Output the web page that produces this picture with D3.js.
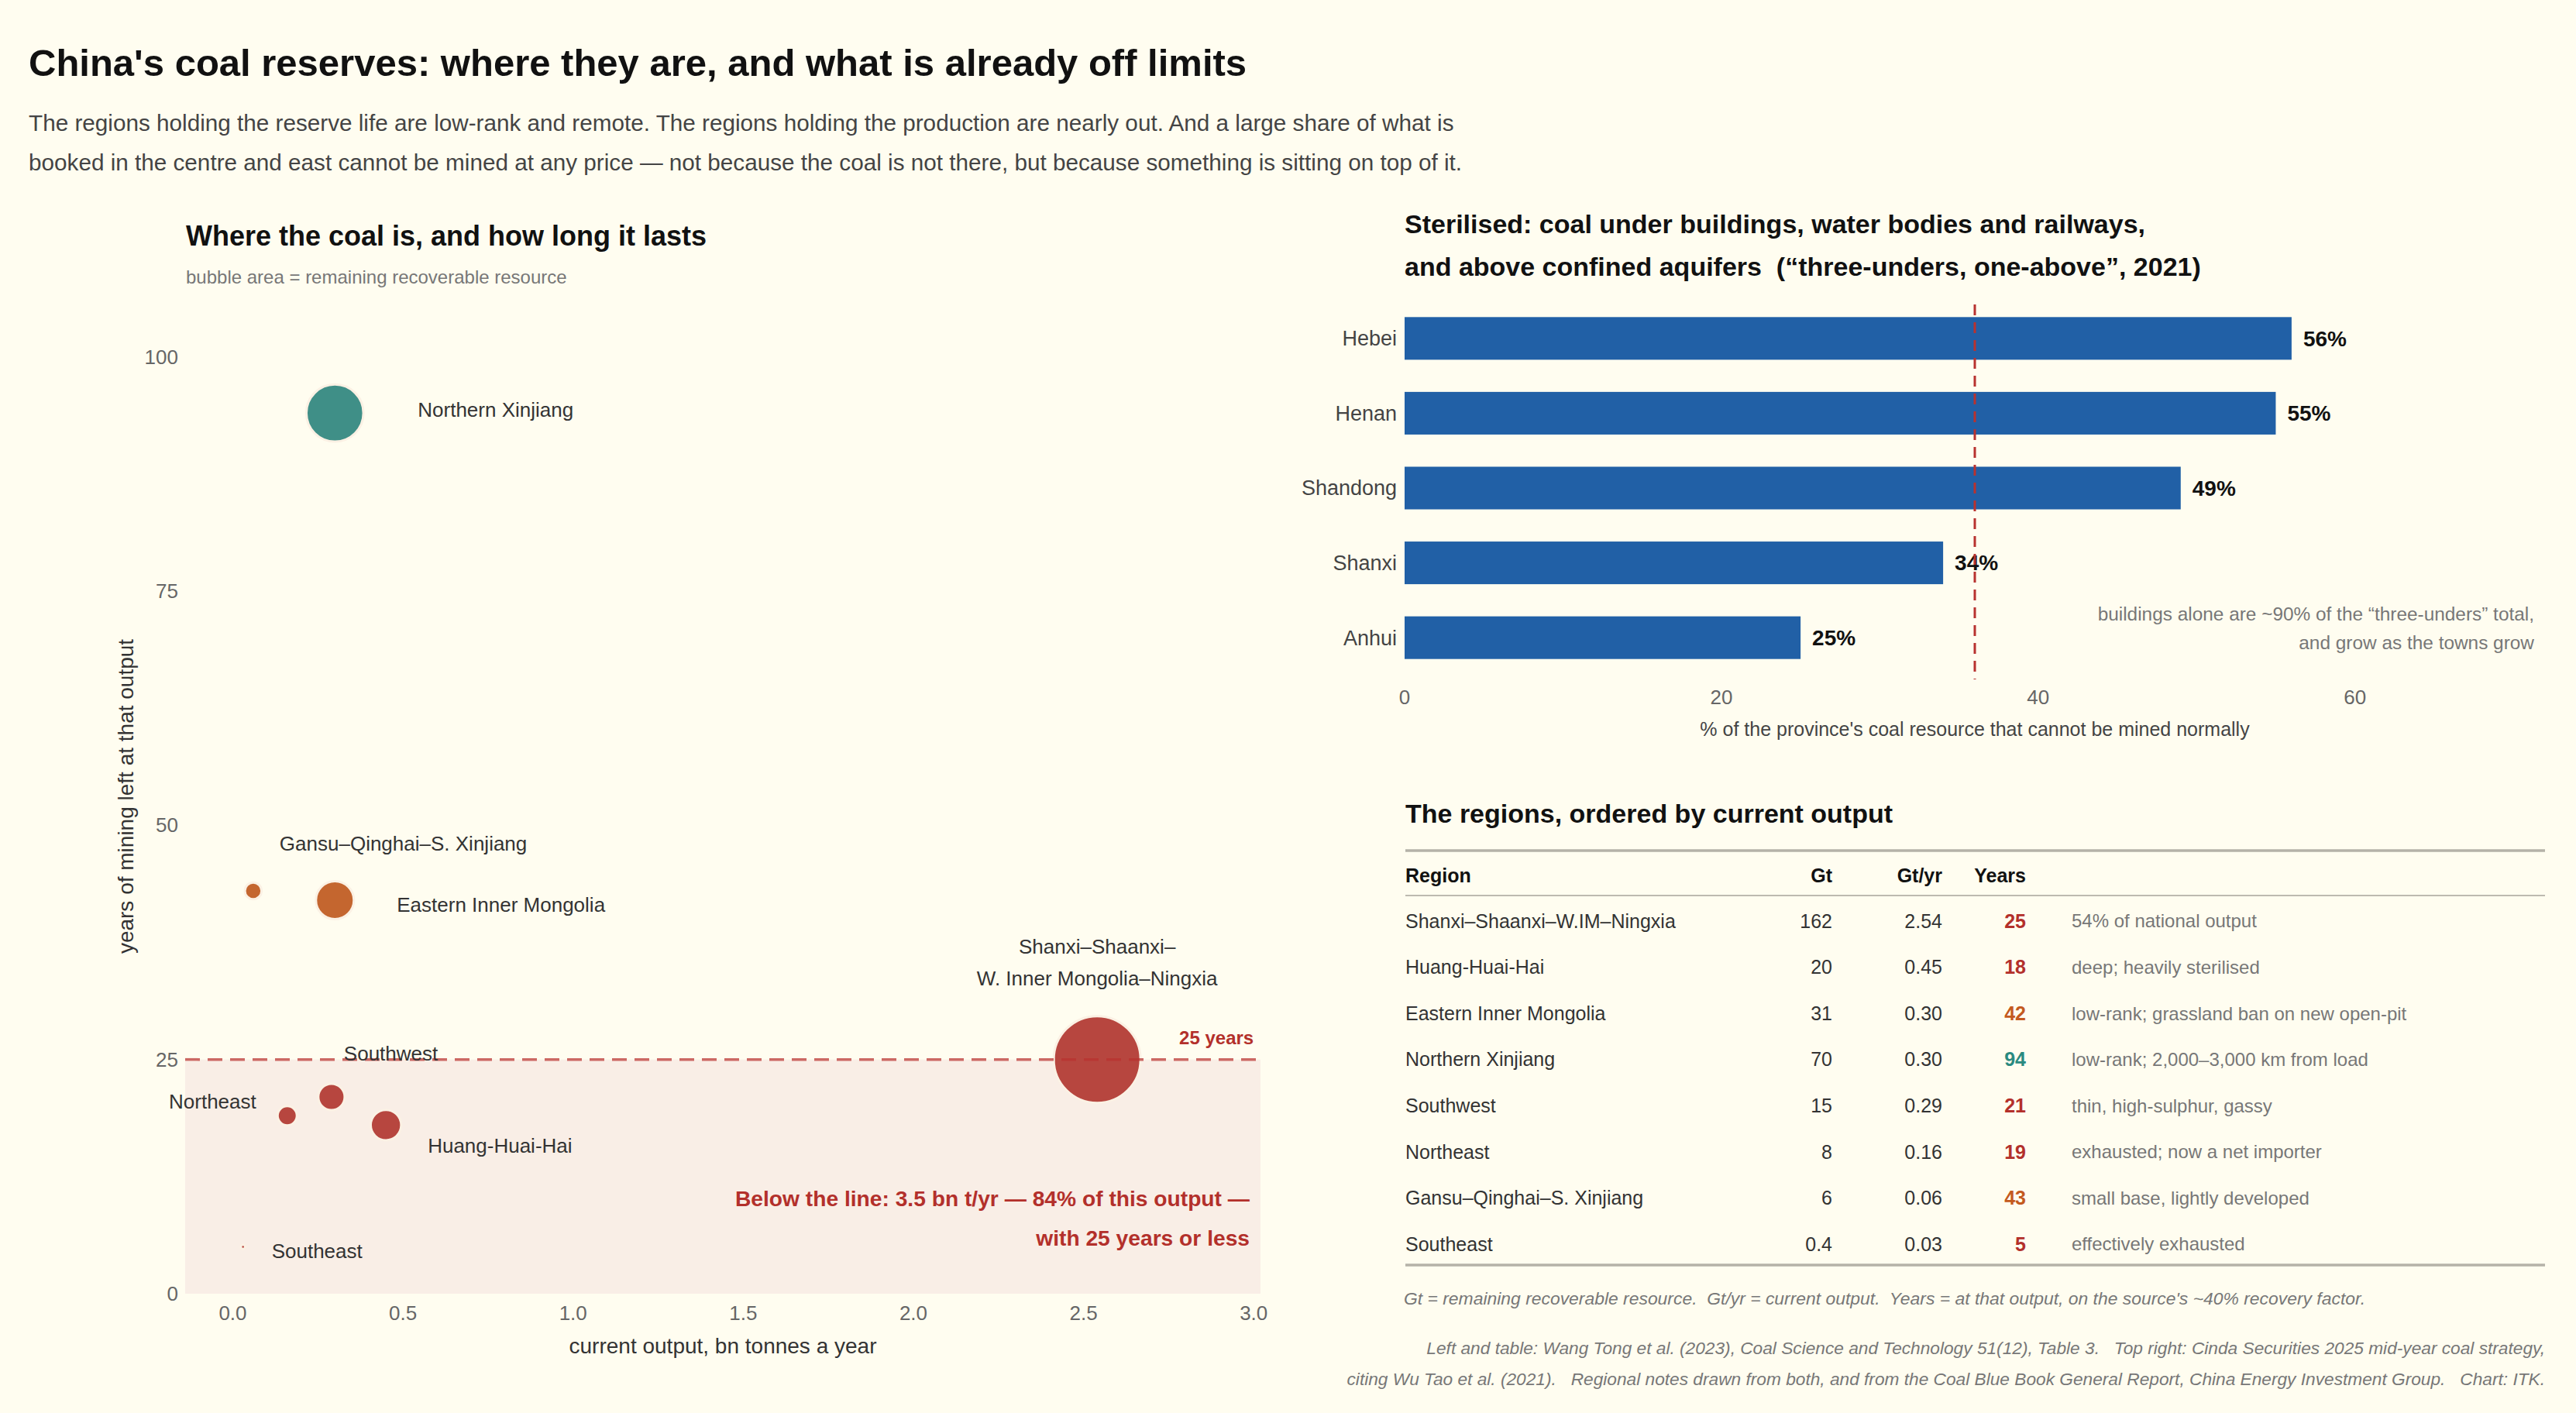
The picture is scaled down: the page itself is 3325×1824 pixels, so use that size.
<!DOCTYPE html>
<html>
<head>
<meta charset="utf-8">
<script src="https://cdn.jsdelivr.net/npm/d3@7"></script>
<style>
  body { margin: 0; background: #fffdf0; }
  svg { display: block; font-family: "Liberation Sans", Arial, Helvetica, sans-serif; }
  text { white-space: pre; }
</style>
</head>
<body>
<div id="chart"></div>
<script>
//Page size
var W = 3325, H = 1824;

//Regional data (Wang Tong et al. 2023, Table 3), ordered by current output
var regions = ['Shanxi–Shaanxi–W.IM–Ningxia', 'Huang-Huai-Hai', 'Eastern Inner Mongolia',
  'Northern Xinjiang', 'Southwest', 'Northeast', 'Gansu–Qinghai–S. Xinjiang', 'Southeast'];
var bubbleNames = [['Shanxi–Shaanxi–', 'W. Inner Mongolia–Ningxia'], ['Huang-Huai-Hai'],
  ['Eastern Inner Mongolia'], ['Northern Xinjiang'], ['Southwest'], ['Northeast'],
  ['Gansu–Qinghai–S. Xinjiang'], ['Southeast']];
var resourceGt = [162, 20, 31, 70, 15, 8, 6, 0.4];
var outputGt = [2.54, 0.45, 0.30, 0.30, 0.29, 0.16, 0.06, 0.03];
var yearsLeft = [25, 18, 42, 94, 21, 19, 43, 5];
var notes = ['54% of national output', 'deep; heavily sterilised', 'low-rank; grassland ban on new open-pit',
  'low-rank; 2,000–3,000 km from load', 'thin, high-sulphur, gassy', 'exhausted; now a net importer',
  'small base, lightly developed', 'effectively exhausted'];

//Sterilised share by province (three-unders, one-above, 2021)
var provinces = ['Hebei', 'Henan', 'Shandong', 'Shanxi', 'Anhui'];
var sterilisedPct = [56, 55, 49, 34, 25];
var referencePct = 36;

//Tick labels
var xTicks = [0, 0.5, 1.0, 1.5, 2.0, 2.5, 3.0];
var yTicks = [0, 25, 50, 75, 100];
var barTicks = [0, 20, 40, 60];
var thresholdYears = 25;

//Colours
var bg = '#fffdf0';
var red = '#b7463f', orange = '#c4662f', teal = '#3f8f87';
var textRed = '#b3302b', textOrange = '#c45a1e', textTeal = '#2a8a80';
function tier(y) { return y <= 25 ? 0 : (y < 60 ? 1 : 2); }
var bubbleFill = [red, orange, teal];
var yearsFill = [textRed, textOrange, textTeal];

//Label offsets from each bubble centre (dx, dy, anchor)
var labelPos = {
  'Shanxi–Shaanxi–W.IM–Ningxia': [0, -146, 'middle'],
  'Huang-Huai-Hai': [54, 27, 'start'],
  'Eastern Inner Mongolia': [80, 6, 'start'],
  'Northern Xinjiang': [107, -4, 'start'],
  'Southwest': [16, -56, 'start'],
  'Northeast': [-40, -18, 'end'],
  'Gansu–Qinghai–S. Xinjiang': [34, -61, 'start'],
  'Southeast': [37, 5, 'start']
};

var svg = d3.select('#chart').append('svg')
  .attr('width', W).attr('height', H);
svg.append('rect').attr('width', W).attr('height', H).attr('fill', bg);

//Page title and deck
svg.append('text').attr('x', 37).attr('y', 98)
  .attr('font-size', 49).attr('font-weight', 'bold').attr('fill', '#111')
  .text("China's coal reserves: where they are, and what is already off limits");
var deck = ['The regions holding the reserve life are low-rank and remote. The regions holding the production are nearly out. And a large share of what is',
  'booked in the centre and east cannot be mined at any price — not because the coal is not there, but because something is sitting on top of it.'];
deck.forEach(function(line, i) {
  svg.append('text').attr('x', 37).attr('y', 169 + i * 51)
    .attr('font-size', 29.7).attr('fill', '#444').text(line);
});

//----- Left: bubble chart -----
var left = svg.append('g');
left.append('text').attr('x', 240).attr('y', 317)
  .attr('font-size', 36).attr('font-weight', 'bold').attr('fill', '#111')
  .text('Where the coal is, and how long it lasts');
left.append('text').attr('x', 240).attr('y', 366)
  .attr('font-size', 24).attr('fill', '#777')
  .text('bubble area = remaining recoverable resource');

var x = d3.scaleLinear().domain([-0.14, 3.02]).range([239, 1627]);
var y = d3.scaleLinear().domain([0, 106.5]).range([1670, 382]);
var r = d3.scaleSqrt().domain([0, 162]).range([0, 56]);

//Shaded zone under the threshold
left.append('rect')
  .attr('x', x(-0.14)).attr('y', y(thresholdYears))
  .attr('width', x(3.02) - x(-0.14)).attr('height', y(0) - y(thresholdYears))
  .attr('fill', '#f9eee6');

//Bubbles, largest first so small ones sit on top
var pts = regions.map(function(d, i) {
  return { name: d, label: bubbleNames[i], gt: resourceGt[i], out: outputGt[i], yrs: yearsLeft[i] };
});
left.selectAll('circle.bubble')
  .data(pts.slice().sort(function(a, b) { return b.gt - a.gt; }))
  .enter().append('circle')
  .attr('class', 'bubble')
  .attr('cx', function(d) { return x(d.out); })
  .attr('cy', function(d) { return y(d.yrs); })
  .attr('r', function(d) { return r(d.gt); })
  .attr('fill', function(d) { return bubbleFill[tier(d.yrs)]; })
  .attr('stroke', '#fbf1e4').attr('stroke-width', 3);

//Threshold line
left.append('line')
  .attr('x1', x(-0.14)).attr('x2', x(3.02))
  .attr('y1', y(thresholdYears)).attr('y2', y(thresholdYears))
  .attr('stroke', '#b8322f').attr('stroke-opacity', 0.72)
  .attr('stroke-width', 3.5).attr('stroke-dasharray', '19,10');

//Bubble labels
pts.forEach(function(d) {
  var p = labelPos[d.name];
  d.label.forEach(function(line, j) {
    left.append('text')
      .attr('x', x(d.out) + p[0]).attr('y', y(d.yrs) + p[1] + j * 41)
      .attr('dy', '0.35em').attr('text-anchor', p[2])
      .attr('font-size', 26).attr('fill', '#333').text(line);
  });
});

//Threshold annotations
left.append('text').attr('x', x(3.0)).attr('y', 1348)
  .attr('text-anchor', 'end').attr('font-size', 24).attr('font-weight', 'bold')
  .attr('fill', textRed).text(thresholdYears + ' years');
['Below the line: 3.5 bn t/yr — 84% of this output —', 'with 25 years or less'].forEach(function(line, i) {
  left.append('text').attr('x', 1613).attr('y', 1557 + i * 51)
    .attr('text-anchor', 'end').attr('font-size', 28.2).attr('font-weight', 'bold')
    .attr('fill', textRed).text(line);
});

//Axes
left.selectAll('text.xt').data(xTicks).enter().append('text')
  .attr('class', 'xt').attr('x', function(d) { return x(d); }).attr('y', 1704)
  .attr('text-anchor', 'middle').attr('font-size', 26).attr('fill', '#666')
  .text(function(d) { return d.toFixed(1); });
left.selectAll('text.yt').data(yTicks).enter().append('text')
  .attr('class', 'yt').attr('x', 230).attr('y', function(d) { return y(d); })
  .attr('dy', '0.35em').attr('text-anchor', 'end').attr('font-size', 26).attr('fill', '#666')
  .text(function(d) { return d; });
left.append('text').attr('x', (x(-0.14) + x(3.02)) / 2).attr('y', 1747)
  .attr('text-anchor', 'middle').attr('font-size', 28).attr('fill', '#333')
  .text('current output, bn tonnes a year');
left.append('text')
  .attr('transform', 'translate(162,1028) rotate(-90)')
  .attr('dy', '0.35em').attr('text-anchor', 'middle').attr('font-size', 28).attr('fill', '#333')
  .text('years of mining left at that output');

//----- Top right: sterilised bars -----
var right = svg.append('g');
['Sterilised: coal under buildings, water bodies and railways,',
 'and above confined aquifers  (“three-unders, one-above”, 2021)'].forEach(function(line, i) {
  right.append('text').attr('x', 1813).attr('y', 301 + i * 55)
    .attr('font-size', 34).attr('font-weight', 'bold').attr('fill', '#111').text(line);
});

var bx = d3.scaleLinear().domain([0, 72]).range([1813, 3285]);
var by = d3.scaleBand().domain(provinces).range([390, 870])
  .paddingInner(0.43).paddingOuter(0.2);

var bars = provinces.map(function(p, i) { return { prov: p, pct: sterilisedPct[i] }; });
right.selectAll('rect.bar').data(bars).enter().append('rect')
  .attr('class', 'bar')
  .attr('x', bx(0)).attr('y', function(d) { return by(d.prov); })
  .attr('width', function(d) { return bx(d.pct) - bx(0); })
  .attr('height', by.bandwidth())
  .attr('fill', '#2160a6');
right.selectAll('text.val').data(bars).enter().append('text')
  .attr('class', 'val')
  .attr('x', function(d) { return bx(d.pct) + 15; })
  .attr('y', function(d) { return by(d.prov) + by.bandwidth() / 2; })
  .attr('dy', '0.35em').attr('font-size', 28).attr('font-weight', 'bold').attr('fill', '#111')
  .text(function(d) { return d.pct + '%'; });
right.selectAll('text.cat').data(bars).enter().append('text')
  .attr('class', 'cat').attr('x', 1803)
  .attr('y', function(d) { return by(d.prov) + by.bandwidth() / 2; })
  .attr('dy', '0.35em').attr('text-anchor', 'end').attr('font-size', 27).attr('fill', '#444')
  .text(function(d) { return d.prov; });

right.append('line')
  .attr('x1', bx(referencePct)).attr('x2', bx(referencePct))
  .attr('y1', 393).attr('y2', 877)
  .attr('stroke', '#b8322f').attr('stroke-width', 3).attr('stroke-dasharray', '14,9');

['buildings alone are ~90% of the “three-unders” total,', 'and grow as the towns grow'].forEach(function(line, i) {
  right.append('text').attr('x', 3271).attr('y', 801 + i * 37)
    .attr('text-anchor', 'end').attr('font-size', 24.4).attr('fill', '#777').text(line);
});

right.selectAll('text.bt').data(barTicks).enter().append('text')
  .attr('class', 'bt').attr('x', function(d) { return bx(d); }).attr('y', 909)
  .attr('text-anchor', 'middle').attr('font-size', 26).attr('fill', '#666')
  .text(function(d) { return d; });
right.append('text').attr('x', bx(36)).attr('y', 950)
  .attr('text-anchor', 'middle').attr('font-size', 25).attr('fill', '#444')
  .text("% of the province's coal resource that cannot be mined normally");

//----- Bottom right: table -----
var tbl = svg.append('g');
tbl.append('text').attr('x', 1814).attr('y', 1062)
  .attr('font-size', 34).attr('font-weight', 'bold').attr('fill', '#111')
  .text('The regions, ordered by current output');

var colRegion = 1814, colGt = 2365, colOut = 2507, colYrs = 2615, colNote = 2674, tblRight = 3285;
tbl.append('line').attr('x1', colRegion).attr('x2', tblRight).attr('y1', 1098).attr('y2', 1098)
  .attr('stroke', '#b5b2a8').attr('stroke-width', 3.5);
tbl.append('line').attr('x1', colRegion).attr('x2', tblRight).attr('y1', 1156).attr('y2', 1156)
  .attr('stroke', '#bdbab0').attr('stroke-width', 2);
tbl.append('line').attr('x1', colRegion).attr('x2', tblRight).attr('y1', 1633).attr('y2', 1633)
  .attr('stroke', '#b5b2a8').attr('stroke-width', 3.5);

var header = [['Region', colRegion, 'start'], ['Gt', colGt, 'end'], ['Gt/yr', colOut, 'end'], ['Years', colYrs, 'end']];
header.forEach(function(h) {
  tbl.append('text').attr('x', h[1]).attr('y', 1130).attr('dy', '0.35em')
    .attr('text-anchor', h[2]).attr('font-size', 25).attr('font-weight', 'bold').attr('fill', '#111')
    .text(h[0]);
});

var rowY = d3.scalePoint().domain(regions).range([1189, 1606]);
pts.forEach(function(d, i) {
  var g = tbl.append('g').attr('transform', 'translate(0,' + rowY(d.name) + ')');
  g.append('text').attr('x', colRegion).attr('dy', '0.35em')
    .attr('font-size', 25).attr('fill', '#333').text(d.name);
  g.append('text').attr('x', colGt).attr('dy', '0.35em').attr('text-anchor', 'end')
    .attr('font-size', 25).attr('fill', '#333').text(String(d.gt));
  g.append('text').attr('x', colOut).attr('dy', '0.35em').attr('text-anchor', 'end')
    .attr('font-size', 25).attr('fill', '#333').text(d.out.toFixed(2));
  g.append('text').attr('x', colYrs).attr('dy', '0.35em').attr('text-anchor', 'end')
    .attr('font-size', 25).attr('font-weight', 'bold').attr('fill', yearsFill[tier(d.yrs)])
    .text(d.yrs);
  g.append('text').attr('x', colNote).attr('dy', '0.35em')
    .attr('font-size', 24).attr('fill', '#777').text(notes[i]);
});

//Footnotes
svg.append('text').attr('x', 1812).attr('y', 1684)
  .attr('font-size', 22.9).attr('font-style', 'italic').attr('fill', '#777')
  .text("Gt = remaining recoverable resource.  Gt/yr = current output.  Years = at that output, on the source's ~40% recovery factor.");
['Left and table: Wang Tong et al. (2023), Coal Science and Technology 51(12), Table 3.   Top right: Cinda Securities 2025 mid-year coal strategy,',
 'citing Wu Tao et al. (2021).   Regional notes drawn from both, and from the Coal Blue Book General Report, China Energy Investment Group.   Chart: ITK.'].forEach(function(line, i) {
  svg.append('text').attr('x', tblRight).attr('y', 1748 + i * 40)
    .attr('text-anchor', 'end').attr('font-size', 22.7).attr('font-style', 'italic').attr('fill', '#777')
    .text(line);
});
</script>
</body>
</html>
